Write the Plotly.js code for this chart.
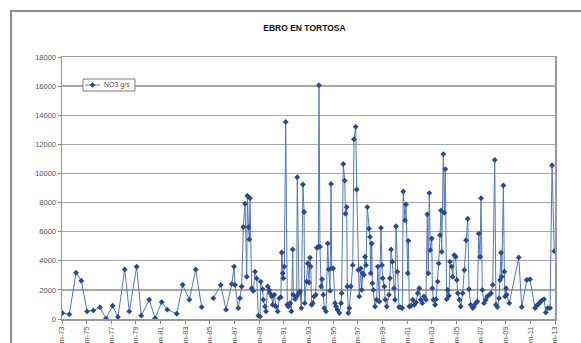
<!DOCTYPE html>
<html>
<head>
<meta charset="utf-8">
<script src="https://cdn.plot.ly/plotly-3.0.1.min.js"></script>
<style>
html,body{margin:0;padding:0;background:#fff;overflow:hidden;}
#wrap{position:relative;width:581px;height:343px;overflow:hidden;}
#frame{position:absolute;left:10px;top:10px;width:700px;height:500px;border:2px solid #8c8c8c;box-sizing:border-box;pointer-events:none;}
#chart{position:absolute;left:0;top:0;width:581px;height:343px;}
</style>
</head>
<body>
<div id="wrap"><div id="chart"></div><div id="frame"></div></div>
<script>
// Decimal year of each sample
const years = [
1973.02,1973.59,1974.14,1974.57,1975.03,1975.54,1976.08,1976.57,1977.11,1977.54,
1978.09,1978.46,1979.06,1979.43,1980.08,1980.55,1981.09,1981.54,1982.31,1982.79,
1983.33,1983.85,1984.33,1984.80,1985.28,1985.88,1986.31,
1986.77,1986.96,1987.04,1987.30,1987.44,1987.58,1987.71,1987.85,1987.99,1988.04,
1988.13,1988.20,1988.25,1988.39,1988.52,1988.66,1988.80,1988.93,1989.07,1989.12,
1989.28,1989.33,1989.47,1989.55,1989.69,1989.80,1989.88,1990.02,1990.10,1990.23,
1990.36,1990.50,1990.63,1990.75,1990.83,1990.91,1990.96,1991.04,1991.15,1991.28,
1991.36,1991.50,1991.61,1991.72,1991.77,1991.91,1992.04,1992.09,1992.23,1992.31,
1992.42,1992.55,1992.64,1992.69,1992.85,1992.94,1993.04,1993.12,1993.18,1993.26,
1993.34,1993.45,1993.59,1993.67,1993.80,1993.85,1993.93,1994.02,1994.10,1994.20,
1994.28,1994.42,1994.56,1994.64,1994.75,1994.83,1994.88,1995.01,1995.15,1995.23,
1995.34,1995.50,1995.64,1995.69,1995.82,1995.94,1996.00,1996.10,1996.15,1996.23,
1996.31,1996.43,1996.59,1996.69,1996.83,1996.91,1997.04,1997.12,1997.24,1997.32,
1997.40,1997.50,1997.59,1997.67,1997.77,1997.91,1997.99,1998.05,1998.13,1998.18,
1998.26,1998.40,1998.53,1998.62,1998.75,1998.88,1998.96,1999.02,1999.15,1999.23,
1999.35,1999.53,1999.61,1999.70,1999.80,1999.94,2000.02,2000.10,2000.21,2000.34,
2000.48,2000.61,2000.69,2000.83,2000.91,2001.05,2001.10,2001.18,2001.32,2001.46,
2001.59,2001.72,2001.86,2001.99,2002.10,2002.23,2002.37,2002.53,2002.64,2002.72,
2002.80,2002.88,2003.00,2003.05,2003.13,2003.27,2003.35,2003.48,2003.56,2003.67,
2003.75,2003.81,2003.94,2004.02,2004.10,2004.21,2004.30,2004.40,2004.48,2004.62,
2004.70,2004.83,2004.94,2005.03,2005.11,2005.24,2005.35,2005.51,2005.64,2005.78,
2005.92,2006.02,2006.16,2006.32,2006.43,2006.57,2006.70,2006.81,2006.92,2007.00,
2007.10,2007.24,2007.38,2007.51,2007.67,2007.81,2007.95,2008.11,2008.21,2008.32,
2008.46,2008.54,2008.62,2008.68,2008.81,2008.89,2008.95,2009.03,2009.08,2009.29,
2010.06,2010.30,2010.71,2010.97,2011.38,2011.52,2011.65,2011.78,2011.92,2012.11,
2012.25,2012.41,2012.60,2012.76,2012.94
];
// NO3 load, g/s (null = missing sample)
const no3 = [
409,318,3180,2630,520,590,800,30,910,140,
3400,520,3590,230,1320,50,1160,640,360,2350,
1320,3400,820,null,1430,2340,640,
2400,3600,2340,750,1430,2230,6320,7920,2900,8470,
6310,5470,8300,2110,1930,3250,2790,230,180,2570,
2050,1320,860,520,2230,2000,1770,1550,980,1660,
860,520,1430,1500,4570,3140,2800,3600,13540,980,
860,1090,520,4780,1660,1365,1550,9740,1770,1890,
750,9240,7350,1090,2570,3820,2500,4210,3600,980,
1090,1550,1660,4890,4960,16060,4960,2230,2730,1660,
750,520,5190,3410,1930,9280,3480,3480,1090,860,
640,410,1090,1770,10650,9510,7230,7690,2230,410,
750,2230,3700,12350,13200,8900,3370,1550,3480,2000,
3140,3030,4280,3700,7690,6210,5640,3140,5190,2460,
2000,860,1320,3600,1200,6260,3700,2800,2230,1320,
860,1660,2800,4780,3940,2115,1320,6370,3250,820,
800,750,8760,6780,7870,3140,5370,860,910,1320,
980,1140,1770,2115,1320,1090,1550,1320,7190,3140,
8650,4730,5530,2115,1320,980,1365,2570,3820,5760,
7460,4620,11330,7300,10300,1365,2000,1590,3940,3600,
2900,4390,4280,2680,1770,1320,860,1770,3370,5410,
6890,2050,980,750,860,1090,1200,5870,4280,8300,
2000,1090,1320,1550,1660,1770,2340,10920,980,820,
1430,2680,4550,2900,9170,3250,1550,2115,1660,1090,
4230,820,2680,2730,750,930,1020,1140,1270,1365,
455,750,750,10560,4660
];
const tickYears = [1973,1975,1977,1979,1981,1983,1985,1987,1989,1991,1993,1995,1997,1999,2001,2003,2005,2007,2009,2011,2013];
const tickLabels = ["m-73","m-75","m-77","m-79","m-81","m-83","m-85","m-87","m-89","m-91","m-93","m-95","m-97","m-99","m-01","m-03","m-05","m-07","m-09","m-11","m-13"];
const seriesName = 'NO3 g/s';

const lineColor = '#5577bd', markerColor = '#2b4a8c';
const trace = {
  x: years, y: no3, type: 'scatter', mode: 'lines+markers', name: seriesName,
  connectgaps: false, showlegend: false,
  line: {color: lineColor, width: 1},
  marker: {symbol: 'diamond', size: 4.5, color: markerColor}
};
const fontFam = 'Liberation Sans, Arial, sans-serif';
const axisFont = {family: fontFam, size: 7.5, color: '#555'};

// compact Excel-style legend box (paper coordinates)
const lg = {x0: 0.0426, x1: 0.148, y0: 0.870, y1: 0.916, lx0: 0.0467, lx1: 0.0771, ly: 0.893};
const cx = (lg.lx0 + lg.lx1) / 2, dx = 0.0052, dy = 0.0095;
const shapes = [
  {type: 'rect', xref: 'paper', yref: 'paper', x0: lg.x0, x1: lg.x1, y0: lg.y0, y1: lg.y1,
   line: {color: '#7a7a7a', width: 1}, fillcolor: '#ffffff', layer: 'above'},
  {type: 'line', xref: 'paper', yref: 'paper', x0: lg.lx0, x1: lg.lx1, y0: lg.ly, y1: lg.ly,
   line: {color: lineColor, width: 1}, layer: 'above'},
  {type: 'path', xref: 'paper', yref: 'paper', layer: 'above',
   path: `M ${cx} ${lg.ly + dy} L ${cx + dx} ${lg.ly} L ${cx} ${lg.ly - dy} L ${cx - dx} ${lg.ly} Z`,
   fillcolor: markerColor, line: {color: markerColor, width: 0.5}}
];
const annotations = [
  {xref: 'paper', yref: 'paper', x: lg.lx1 + 0.004, y: lg.ly, xanchor: 'left', yanchor: 'middle',
   text: seriesName, showarrow: false, font: {family: fontFam, size: 7, color: '#555'}}
];

const layout = {
  width: 581, height: 343,
  margin: {l: 62, r: 26, t: 57, b: 24, pad: 0},
  paper_bgcolor: '#ffffff', plot_bgcolor: '#ffffff',
  title: {text: '<b>EBRO EN TORTOSA</b>', x: 0.524, xanchor: 'center', y: 0.918, yanchor: 'middle',
          font: {family: fontFam, size: 8.5, color: '#111'}},
  showlegend: false,
  shapes: shapes, annotations: annotations,
  xaxis: {
    range: [1973, 2013], tickmode: 'array', tickvals: tickYears, ticktext: tickLabels,
    tickangle: -90, tickfont: axisFont, ticks: 'outside', ticklen: 3, tickcolor: '#888',
    showgrid: false, zeroline: false, showline: true, linecolor: '#999', linewidth: 1.5, mirror: true
  },
  yaxis: {
    range: [0, 18000], dtick: 2000, tickformat: 'd', tickfont: axisFont,
    ticks: 'outside', ticklen: 3, tickcolor: '#888',
    showgrid: true, gridcolor: '#a8a8a8', gridwidth: 1.4, zeroline: false,
    showline: true, linecolor: '#999', linewidth: 1.5, mirror: true
  }
};
Plotly.newPlot('chart', [trace], layout, {displayModeBar: false, staticPlot: true});
</script>
</body>
</html>
